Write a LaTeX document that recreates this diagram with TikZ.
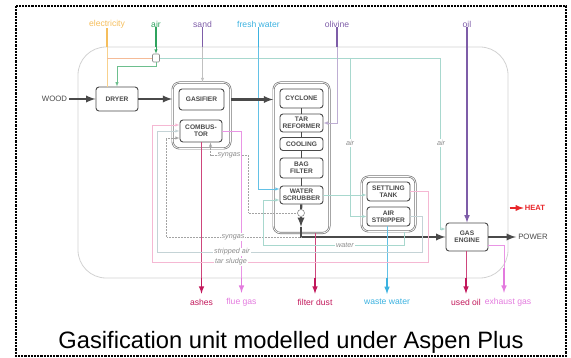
\documentclass[tikz,border=0pt]{standalone}
\usepackage{fontspec}
\setmainfont{Liberation Sans}
\setsansfont{Liberation Sans}
\usetikzlibrary{
	arrows,
	arrows.meta,
	positioning,
	shapes,
	shapes.geometric,
	fit,
	calc,
}
\definecolor{UnitGray}{HTML}{4A4A4A}
\definecolor{NoteGray}{HTML}{8C8C8C}
\definecolor{FrameGray}{HTML}{D2D2D2}
\definecolor{StripGray}{HTML}{C4D3D6}
\definecolor{ElecOrange}{HTML}{F5BE5C}
\definecolor{AirGreen}{HTML}{2FA35E}
\definecolor{AirTeal}{HTML}{A8D8CE}
\definecolor{SolidPurple}{HTML}{7E5DA8}
\definecolor{WaterBlue}{HTML}{3CB2E0}
\definecolor{AshRed}{HTML}{C2185B}
\definecolor{GasPink}{HTML}{E37BDE}
\definecolor{SludgePink}{HTML}{F5B8D3}
\definecolor{HeatRed}{HTML}{E8262A}
\tikzset{every picture/.style={/utils/exec={\sffamily}}}

\begin{document}
\begin{tikzpicture} [x=1pt,y=-1pt,
            every node/.style={align=center,rectangle,inner sep=0pt},
            unit/.style={draw=UnitGray,line width=0.9pt,fill=white,rounded corners=3pt,minimum width=43pt,text=UnitGray,font=\fontsize{6.6}{7.2}\selectfont\bfseries},
            group/.style={draw=UnitGray!75,line width=0.7pt,double=white,double distance=0.7pt,rounded corners=7pt,inner sep=6pt},
            flow/.style={draw=UnitGray,line width=2.2pt},
            joint/.style={draw=UnitGray,line width=1.4pt},
            link/.style={draw,line width=0.5pt},
            feed/.style={draw,line width=1.5pt},
            outlet/.style={draw,line width=1.5pt,-latex,shorten >=5pt},
            tag/.style={font=\fontsize{8.6}{9}\selectfont},
            note/.style={font=\fontsize{7.2}{8}\selectfont\itshape,text=NoteGray,fill=white,inner sep=1pt},
            terminal/.style={font=\fontsize{7.8}{8}\selectfont,text=UnitGray,inner sep=2pt}
        ]
        \useasboundingbox (0,0) rectangle (571,358);
        \draw[black,line width=1.3pt,dash pattern=on 2.2pt off 1pt] (16,6) rectangle (566,356);

        \node at (293,162.5) [draw=FrameGray,line width=0.8pt,rounded corners=28pt,minimum width=430pt,minimum height=231pt] (plant) {};
        \node at (291,349) [anchor=base,font=\fontsize{23.7}{26}\selectfont] (caption) {Gasification unit modelled under Aspen Plus};

        \node at (117,99) [unit,minimum width=42pt,minimum height=24pt] (dryer) {DRYER};
        \node at (201.5,99.5) [unit,minimum width=45pt,minimum height=21pt] (gasifier) {GASIFIER};
        \node at (201,131) [unit,minimum width=42pt,minimum height=22pt] (combustor) {COMBUS-\\TOR};
        \node at (301.5,98.5) [unit,minimum height=19pt] (cyclone) {CYCLONE};
        \node at (301.5,123) [unit,minimum height=18pt] (reformer) {TAR\\REFORMER};
        \node at (301.5,144) [unit,minimum height=13pt] (cooling) {COOLING};
        \node at (301.5,168) [unit,minimum height=20pt] (filter) {BAG\\FILTER};
        \node at (301.5,195) [unit,minimum height=18pt] (scrubber) {WATER\\SCRUBBER};
        \node at (388.5,191.5) [unit,minimum height=19pt] (settling) {SETTLING\\TANK};
        \node at (388.5,216.5) [unit,minimum height=19pt] (stripper) {AIR\\STRIPPER};
        \node at (467,237) [unit,minimum width=42pt,minimum height=28pt] (engine) {GAS\\ENGINE};

        \node at (301,213) [draw=NoteGray,fill=white,circle,minimum size=7pt,line width=0.6pt] (splitter) {};
        \coordinate (gasout) at (301,227);
        \coordinate (gasturn) at (301,237);
        \node at (156,58) [draw=NoteGray,fill=white,rounded corners=1pt,minimum width=7pt,minimum height=8pt,line width=0.6pt] (compressor) {};

        \node [group,fit=(gasifier)(combustor)] (gasgroup) {};
        \node [group,fit=(cyclone)(scrubber)(gasout)] (cleangroup) {};
        \node [group,inner sep=5pt,fit=(settling)(stripper)] (watergroup) {};

        \node at (54.5,99) [terminal] (wood) {WOOD};
        \node at (533,237) [terminal] (power) {POWER};
        \node at (535,208) [font=\fontsize{7.6}{8}\selectfont\bfseries,text=HeatRed,inner sep=1pt] (heat) {HEAT};

        \node at (107,24) [tag,text=ElecOrange] (electricity) {electricity};
        \node at (156,24) [tag,text=AirGreen] (air) {air};
        \node at (202.5,24) [tag,text=SolidPurple] (sand) {sand};
        \node at (258.5,24) [tag,text=WaterBlue] (freshwater) {fresh water};
        \node at (337,24) [tag,text=SolidPurple] (olivine) {olivine};
        \node at (467,24) [tag,text=SolidPurple] (oil) {oil};

        \node at (201.5,302) [tag,text=AshRed] (ashes) {ashes};
        \node at (241.5,302) [tag,text=GasPink] (fluegas) {flue gas};
        \node at (315,302) [tag,text=AshRed] (filterdust) {filter dust};
        \node at (387,302) [tag,text=WaterBlue] (wastewater) {waste water};
        \node at (466,302) [tag,text=AshRed] (usedoil) {used oil};
        \node at (508,302) [tag,text=GasPink] (exhaust) {exhaust gas};

        \path[feed,draw=ElecOrange] (electricity) -- (electricity |- plant.north);
        \path[link,draw=ElecOrange!70] (electricity |- plant.north) -- (electricity |- dryer.north);
        \path[link,draw=ElecOrange!50!SludgePink] (electricity |- compressor) -- (compressor);
        \path[feed,draw=AirGreen] (air) -- (air |- plant.north);
        \path[link,draw=AirGreen,-latex] (air |- plant.north) -- (compressor);
        \path[link,draw=AirGreen!70,-latex] (compressor.south) -- ++(0,4) -| (dryer.north);
        \path[link,draw=AirTeal,-latex] (compressor.east) -| ($(engine.west)+(-5,-8)$) -- ($(engine.west)+(0,-8)$);
        \coordinate (airsplit) at (350,58);
        \path[link,draw=AirTeal,-latex] (airsplit) |- (stripper.west);
        \node at (350,143) [note] (airnote) {air};
        \node at (441,143) [note] (enginenote) {air};
        \path[feed,draw=SolidPurple] (sand) -- (sand |- plant.north);
        \path[link,draw=NoteGray!55,-latex] (sand |- plant.north) -- (sand |- gasgroup.north);
        \path[feed,draw=WaterBlue] (freshwater) -- (freshwater |- plant.north);
        \path[link,draw=WaterBlue!80,-latex] (freshwater |- plant.north) |- ($(scrubber.west)+(0,-6)$);
        \path[feed,draw=SolidPurple] (olivine) -- (olivine |- plant.north);
        \path[link,draw=SolidPurple!50,-latex] (olivine |- plant.north) |- (reformer.east);
        \path[feed,draw=SolidPurple,-latex] (oil) -- (engine);

        \path[flow,-latex] (wood) -- (dryer);
        \path[flow,-latex] (dryer) -- (dryer -| gasgroup.west);
        \path[flow,-latex] (gasgroup.east |- gasifier) -- (cleangroup.west |- gasifier);
        \path[joint] (cyclone) -- (reformer);
        \path[joint] (reformer) -- (cooling);
        \path[joint] (cooling) -- (filter);
        \path[joint] (filter) -- (scrubber);
        \path[flow] (scrubber) -- (splitter);
        \path[flow,-latex] (splitter) -- (gasout);
        \path[flow,-latex] (gasout) |- (engine);
        \path[flow,-latex] (engine) -- (power);
        \path[draw=HeatRed,line width=1.8pt,-latex] ($(heat.west)+(-14,0)$) -- (heat);

        \path[link,draw=AshRed!80] (ashes |- combustor.south) -- (ashes |- plant.south);
        \path[outlet,draw=AshRed] (ashes |- plant.south) -- (ashes);
        \path[link,draw=GasPink!80] (combustor.east) -| (fluegas |- plant.south);
        \path[outlet,draw=GasPink] (fluegas |- plant.south) -- (fluegas);
        \path[link,draw=AshRed!80] (filterdust |- cleangroup.south) -- (filterdust |- plant.south);
        \path[outlet,draw=AshRed] (filterdust |- plant.south) -- (filterdust);
        \path[link,draw=WaterBlue!80] (wastewater |- stripper.south) -- (wastewater |- plant.south);
        \path[outlet,draw=WaterBlue] (wastewater |- plant.south) -- (wastewater);
        \path[link,draw=AshRed!80] (usedoil |- engine.south) -- (usedoil |- plant.south);
        \path[outlet,draw=AshRed] (usedoil |- plant.south) -- (usedoil);
        \coordinate (exhaustout) at (504,268);
        \path[link,draw=GasPink!80] ($(engine.east)+(0,8)$) -| (exhaustout);
        \path[outlet,draw=GasPink] (exhaustout) -- (exhaustout |- exhaust.north);

        \path[link,draw=NoteGray!80,densely dotted,-latex] (splitter) -| ($(combustor.south east)+(26,13)$) -| ($(combustor.south)+(9.5,0)$);
        \node at (229,155) [note] (syngasnote) {syngas};
        \coordinate (syngasloop) at (166,237);
        \path[link,draw=NoteGray!80,densely dotted,-latex] (gasturn) -- (syngasloop) |- ($(combustor.west)+(0,7)$);
        \node at (233,237) [note] (syngasnote2) {syngas};
        \coordinate (airloop) at (157,252);
        \path[link,draw=StripGray,-latex] (stripper.east) -| ($(stripper.east)+(12,35.5)$) -- (airloop) |- (combustor.west);
        \node at (232,252) [note] (strippednote) {stripped air};
        \coordinate (sludgeloop) at (152,262);
        \path[link,draw=SludgePink,-latex] (settling.east) -| ($(settling.east)+(18,70.5)$) -- (sludgeloop) |- ($(combustor.west)+(0,-6)$);
        \node at (231,262) [note] (sludgenote) {tar sludge};
        \path[link,draw=AirTeal,-latex] (scrubber.east) -- (scrubber.east -| settling.west);
        \coordinate (waterloop) at (263,245);
        \path[link,draw=AirTeal,-latex] ($(watergroup.south)+(16,0)$) |- (waterloop) |- ($(scrubber.west)+(0,5)$);
        \node at (345,245) [note] (waternote) {water};
    \end{tikzpicture}
\end{document}
